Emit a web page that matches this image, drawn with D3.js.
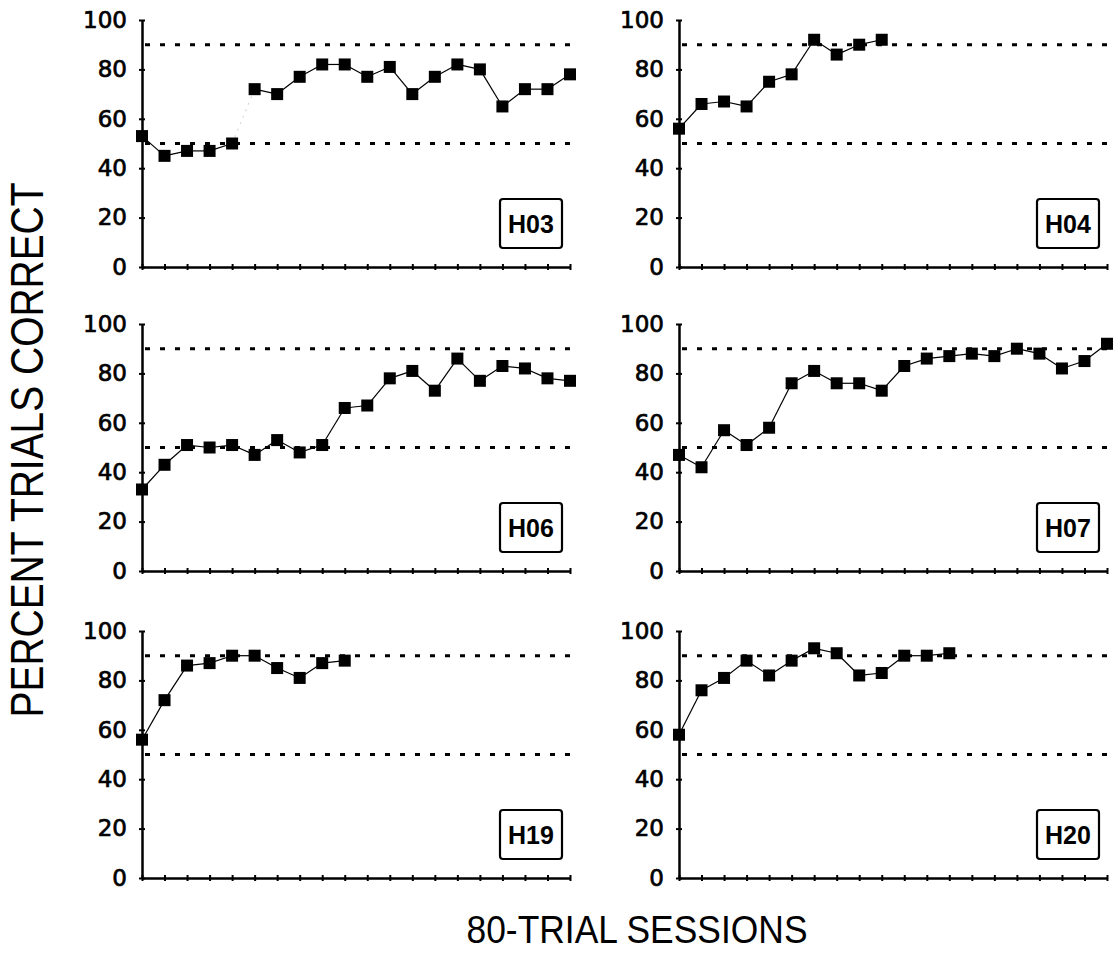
<!DOCTYPE html>
<html>
<head>
<meta charset="utf-8">
<script src="https://cdn.jsdelivr.net/npm/d3@7"></script>
<style>
  body { margin: 0; background: #fff; }
  .tick text { font-family: "DejaVu Sans", sans-serif; font-size: 23px; fill: #000; stroke: #000; stroke-width: 0.7px; }
</style>
</head>
<body>
<svg id="chart" width="1120" height="967"></svg>
<script>

// values, one array per subject
const subjects = ["H03", "H04", "H06", "H07", "H19", "H20"];
const h03 = [53, 45, 47, 47, 50, 72, 70, 77, 82, 82, 77, 81, 70, 77, 82, 80, 65, 72, 72, 78];
const h04 = [56, 66, 67, 65, 75, 78, 92, 86, 90, 92];
const h06 = [33, 43, 51, 50, 51, 47, 53, 48, 51, 66, 67, 78, 81, 73, 86, 77, 83, 82, 78, 77];
const h07 = [47, 42, 57, 51, 58, 76, 81, 76, 76, 73, 83, 86, 87, 88, 87, 90, 88, 82, 85, 92];
const h19 = [56, 72, 86, 87, 90, 90, 85, 81, 87, 88];
const h20 = [58, 76, 81, 88, 82, 88, 93, 91, 82, 83, 90, 90, 91];
const series = [h03, h04, h06, h07, h19, h20];

const criteria = [50, 90];
const yTicks = [0, 20, 40, 60, 80, 100];
const sessionTicks = [1, 2, 3, 4, 5, 6, 7, 8, 9, 10, 11, 12, 13, 14, 15, 16, 17, 18, 19, 20];
// the H03 link between session 5 and 6 is barely printed
const faintLinks = [["H03", 5]];

const svg = d3.select("#chart");

const colX = [142, 679],
      rowY = [20, 324, 631],
      pw = 428,
      ph = 247;

const x = d3.scaleLinear().domain([1, 20]).range([0, pw]);
const y = d3.scaleLinear().domain([0, 100]).range([ph, 0]);

const line = d3.line()
    .x(d => x(d.s))
    .y(d => y(d.v));

subjects.forEach((name, i) => {
    let g = svg.append("g")
        .attr("transform", "translate(" + colX[i % 2] + "," + rowY[Math.floor(i / 2)] + ")");

    let pts = series[i].map((v, j) => ({ s: sessionTicks[j], v: v }));

    // criterion lines
    g.selectAll(".crit")
      .data(criteria)
      .enter().append("line")
        .attr("x1", 3)
        .attr("x2", pw)
        .attr("y1", d => y(d))
        .attr("y2", d => y(d))
        .attr("stroke", "#000")
        .attr("stroke-width", 3)
        .attr("stroke-dasharray", "5,10");

    // axes with ticks crossing the line
    let ya = g.append("g")
        .call(d3.axisLeft(y).tickValues(yTicks).tickSize(3).tickSizeOuter(0).tickPadding(12));
    ya.selectAll(".tick line").attr("x1", 3).attr("stroke-width", 2);
    ya.select(".domain").attr("stroke-width", 2.5);

    let xa = g.append("g")
        .attr("transform", "translate(0," + ph + ")")
        .call(d3.axisBottom(x).tickValues(sessionTicks).tickSize(3).tickSizeOuter(0).tickFormat(""));
    xa.selectAll(".tick line").attr("y1", -3).attr("stroke-width", 2);
    xa.select(".domain").attr("stroke-width", 2.5);

    // connecting line, segment by segment so faint ones can be lighter
    let segs = d3.pairs(pts);
    g.selectAll(".seg")
      .data(segs)
      .enter().append("path")
        .attr("d", d => line(d))
        .attr("fill", "none")
        .attr("stroke", d => faintLinks.some(f => f[0] === name && f[1] === d[0].s) ? "#d8d8d8" : "#000")
        .attr("stroke-dasharray", d => faintLinks.some(f => f[0] === name && f[1] === d[0].s) ? "2,5" : null)
        .attr("stroke-width", 1.2);

    g.selectAll(".pt")
      .data(pts)
      .enter().append("rect")
        .attr("x", d => x(d.s) - 6)
        .attr("y", d => y(d.v) - 6)
        .attr("width", 12)
        .attr("height", 12)
        .attr("fill", "#000");

    // subject label box
    let lb = g.append("g")
        .attr("transform", "translate(" + (pw - 70) + "," + (ph - 68) + ")");
    lb.append("rect")
        .attr("width", 62)
        .attr("height", 49)
        .attr("rx", 3)
        .attr("fill", "#fff")
        .attr("stroke", "#000")
        .attr("stroke-width", 2.2);
    lb.append("text")
        .attr("x", 31)
        .attr("y", 34)
        .attr("text-anchor", "middle")
        .attr("font-family", "Liberation Sans, Arial, sans-serif")
        .attr("font-weight", "bold")
        .attr("font-size", 25)
        .text(name);
});

// axis titles
svg.append("text")
    .attr("transform", "translate(43,450) rotate(-90)")
    .attr("text-anchor", "middle")
    .attr("font-family", "Liberation Sans, Arial, sans-serif")
    .attr("font-size", 46)
    .attr("textLength", 535)
    .attr("lengthAdjust", "spacingAndGlyphs")
    .text("PERCENT TRIALS CORRECT");

svg.append("text")
    .attr("x", 637)
    .attr("y", 943)
    .attr("text-anchor", "middle")
    .attr("font-family", "Liberation Sans, Arial, sans-serif")
    .attr("font-size", 39)
    .attr("textLength", 341)
    .attr("lengthAdjust", "spacingAndGlyphs")
    .text("80-TRIAL SESSIONS");

</script>
</body>
</html>
